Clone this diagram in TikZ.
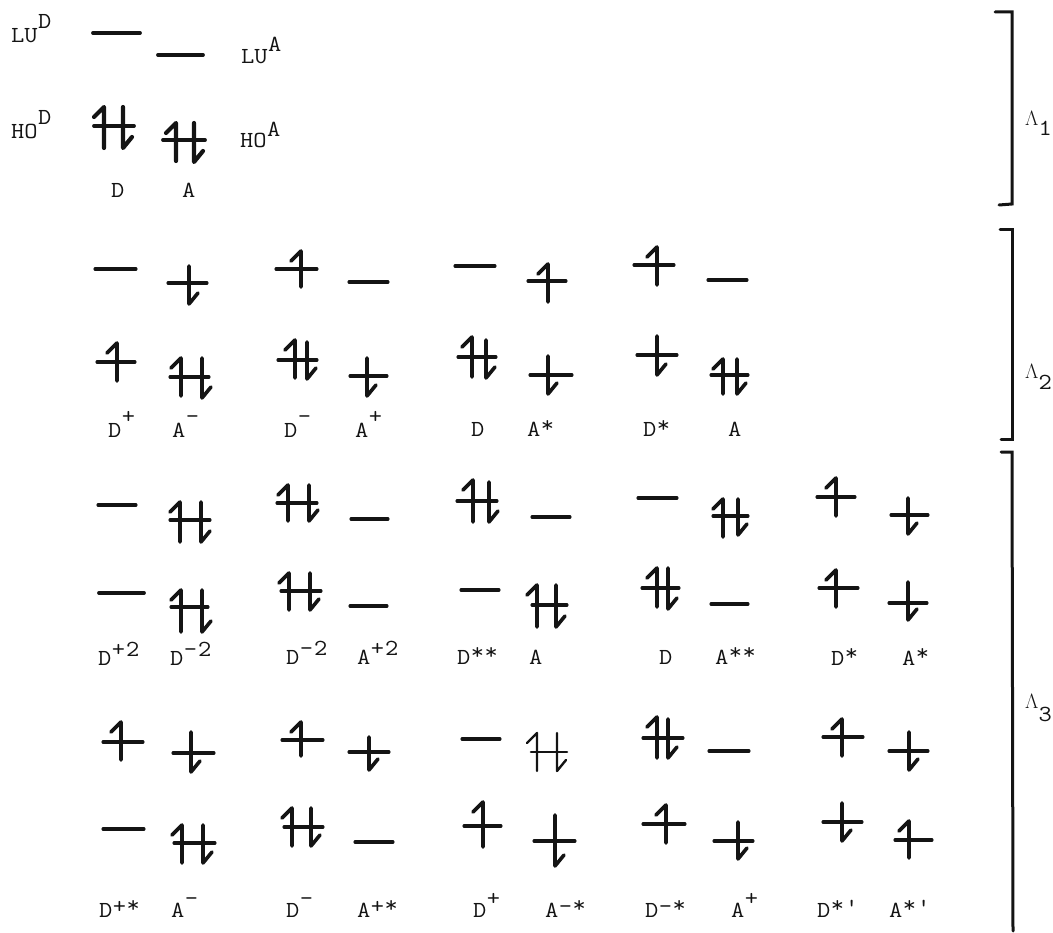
\documentclass[tikz,border=0pt]{standalone}
\usepackage{amsmath,amssymb}
\usepackage{fontspec}
\usetikzlibrary{arrows.meta,calc,positioning}
\definecolor{ink}{HTML}{141414}
\newfontfamily\labelfam[FakeStretch=1.12]{Latin Modern Mono}
\newcommand{\lblfont}{\fontsize{23}{23}\selectfont\labelfam}
\newcommand{\upby}[2]{\kern0.5pt\raisebox{#1pt}{#2}}
\newcommand{\starmark}{\kern0.5pt\raisebox{4.5pt}{\textbf{*}}}
\newcommand{\orb}[4][]{\draw[orbline,#1] (#2,#4) -- (#3,#4);}
\newcommand{\spinup}[4][]{\draw[spinline,#1] (#2-10,#3+10) -- (#2,#3) -- (#2,#4);}
\newcommand{\spindown}[4][]{\draw[spinline,#1] (#2,#3) -- (#2,#4) -- (#2+9,#4-11);}
\tikzset{
  orbline/.style={draw=ink,line width=3.1pt,line cap=round},
  spinline/.style={draw=ink,line width=3.6pt,line cap=round,line join=round},
  bracketline/.style={draw=ink,line width=3pt,line cap=round,line join=miter},
  statelabel/.style={anchor=base west,inner sep=0pt,font=\lblfont,text=ink},
  blocklabel/.style={anchor=base west,inner sep=0pt,font=\fontsize{21}{21}\selectfont,text=ink}
}
\begin{document}
\begin{tikzpicture}[x=1pt,y=-1pt]
  \useasboundingbox (0,0) rectangle (1053,933);

  \orb[line width=3.8pt]{93}{140}{33} \orb[line width=3.8pt]{158}{203}{55}
  \orb[line width=3.8pt]{94}{134}{126} \spinup[line width=4.2pt]{104}{107}{148} \spindown[line width=4.2pt]{123}{107}{148}
  \orb[line width=3.8pt]{163}{205}{140} \spinup[line width=4.2pt]{176}{123}{161} \spindown[line width=4.2pt]{194}{123}{162}
  \node[statelabel] (lud) at (11,43) {LU\upby{14}{D}};
  \node[statelabel] (lua) at (241,64) {LU\upby{12}{A}};
  \node[statelabel] (hod) at (11,139) {HO\upby{14}{D}};
  \node[statelabel] (hoa) at (240,148) {HO\upby{11}{A}};
  \node[statelabel] (d11) at (111,198) {D};
  \node[statelabel] (a11) at (182,198) {A};

  \orb{95}{136}{269} \orb{168}{207}{283} \spindown{189}{266}{304}
  \orb{97}{135}{362} \spinup{117}{343}{381} \orb{170}{209}{377} \spinup{181}{358}{396} \spindown{202}{358}{398}
  \orb{276}{317}{269} \spinup{301}{251}{287} \orb{349}{388}{282}
  \orb{278}{317}{360} \spinup{295}{340}{378} \spindown{307}{342}{379} \orb{350}{387}{376} \spindown{367}{358}{396}
  \orb{455}{495}{266} \orb{528}{566}{281} \spinup{548}{264}{302}
  \orb{458}{496}{357} \spinup{472}{337}{377} \spindown{486}{340}{378} \orb{530}{572}{375} \spindown{548}{356}{394}
  \orb{634}{674}{265} \spinup{657}{247}{285} \orb{708}{747}{280}
  \orb{637}{677}{355} \spindown{657}{336}{375} \orb{711}{748}{375} \spinup{723}{359}{394} \spindown{737}{359}{394}
  \node[statelabel] (d21) at (108,438) {D\upby{14}{\textbf{+}}};
  \node[statelabel] (a21) at (172,438) {A\upby{14}{\textbf{-}}};
  \node[statelabel] (d22) at (284,438) {D\upby{14}{\textbf{-}}};
  \node[statelabel] (a22) at (355,438) {A\upby{14}{\textbf{+}}};
  \node[statelabel] (d23) at (471,437) {D};
  \node[statelabel] (a23) at (527,437) {A\starmark};
  \node[statelabel] (d24) at (643,437) {D\starmark};
  \node[statelabel] (a24) at (728,437) {A};

  \orb{98}{136}{505} \orb{170}{210}{520} \spinup{180}{502}{542} \spindown{201}{502}{542}
  \orb[line width=3.8pt]{99}{144}{593} \orb{171}{208}{607} \spinup{181}{590}{632} \spindown{202}{590}{632}
  \orb{277}{317}{503} \spinup{288}{485}{521} \spindown{309}{485}{521} \orb{351}{388}{519}
  \orb{281}{321}{591} \spinup{289}{573}{610} \spindown{310}{573}{610} \orb{350}{387}{606}
  \orb{457}{497}{501} \spinup{473}{480}{522} \spindown{489}{482}{522} \orb{532}{570}{517}
  \orb{461}{499}{590} \orb{532}{567}{605} \spinup{537}{585}{627} \spindown{556}{585}{627}
  \orb{638}{677}{498} \orb{713}{748}{516} \spinup{723}{499}{537} \spindown{738}{499}{535}
  \orb{642}{679}{588} \spinup{657}{568}{607} \spindown{668}{568}{609} \orb{711}{748}{604}
  \orb{817}{855}{497} \spinup{836}{478}{516} \orb{891}{928}{515} \spindown{908}{498}{534}
  \orb{819}{858}{588} \spinup{836}{570}{607} \orb{889}{927}{603} \spindown{908}{582}{620}
  \node[statelabel] (d31) at (98,665) {D\upby{9}{\textbf{+}\kern1pt 2}};
  \node[statelabel] (a31) at (170,665) {D\upby{9}{\textbf{-}\kern1pt 2}};
  \node[statelabel] (d32) at (286,664) {D\upby{9}{\textbf{-}\kern1pt 2}};
  \node[statelabel] (a32) at (357,664) {A\upby{9}{\textbf{+}\kern1pt 2}};
  \node[statelabel] (d33) at (457,664) {D\starmark\starmark};
  \node[statelabel] (a33) at (529,664) {A};
  \node[statelabel] (d34) at (659,664) {D};
  \node[statelabel] (a34) at (715,664) {A\starmark\starmark};
  \node[statelabel] (d35) at (831,665) {D\starmark};
  \node[statelabel] (a35) at (902,665) {A\starmark};

  \orb{103}{143}{742} \spinup{121}{722}{760} \orb{173}{214}{753} \spindown{191}{732}{772}
  \orb{103}{144}{829} \orb{174}{215}{843} \spinup{182}{825}{863} \spindown{203}{825}{863}
  \orb{282}{323}{740} \spinup{301}{722}{756} \orb{349}{389}{752} \spindown{369}{737}{770}
  \orb{284}{323}{827} \spinup{292}{808}{846} \spindown{311}{808}{846} \orb{355}{393}{842}
  \orb{462}{500}{739} \orb[line width=2.6pt]{531}{567}{752} \spinup[line width=2.4pt]{537}{733}{771} \spindown[line width=2.4pt]{557}{733}{771}
  \orb{464}{501}{826} \spinup{483}{802}{847} \orb{534}{575}{841} \spindown{555}{815}{866}
  \orb{643}{683}{738} \spinup{657}{717}{758} \spindown{668}{719}{758} \orb{709}{749}{751}
  \orb{643}{685}{824} \spinup{666}{805}{843} \orb{714}{753}{841} \spindown{738}{822}{859}
  \orb{823}{863}{737} \spinup{842}{719}{756} \orb{889}{928}{751} \spindown{909}{732}{770}
  \orb{823}{862}{822} \spindown{842}{803}{841} \orb{895}{932}{840} \spinup{909}{821}{858}
  \node[statelabel] (d41) at (99,917) {D\upby{4}{\textbf{+}}\starmark};
  \node[statelabel] (a41) at (171,917) {A\upby{12}{\textbf{-}}};
  \node[statelabel] (d42) at (286,917) {D\upby{12}{\textbf{-}}};
  \node[statelabel] (a42) at (357,917) {A\upby{4}{\textbf{+}}\starmark};
  \node[statelabel] (d43) at (473,917) {D\upby{12}{\textbf{+}}};
  \node[statelabel] (a43) at (545,917) {A\upby{4}{\textbf{-}}\starmark};
  \node[statelabel] (d44) at (645,917) {D\upby{4}{\textbf{-}}\starmark};
  \node[statelabel] (a44) at (731,917) {A\upby{12}{\textbf{+}}};
  \node[statelabel] (d45) at (817,917) {D\starmark\kern1pt\raisebox{3pt}{\textbf{'}}};
  \node[statelabel] (a45) at (889,917) {A\starmark\kern1pt\raisebox{3pt}{\textbf{'}}};

  \draw[bracketline] (995,12) -- (1012,12) -- (1012,204) -- (999,205);
  \draw[bracketline] (1000,230) -- (1012,230) -- (1012,440) -- (1001,440);
  \draw[bracketline] (1001,452) -- (1012,452) -- (1013,931);
  \node[blocklabel] (lam1) at (1025,126) {$\Lambda$\raisebox{-10pt}{\lblfont 1}};
  \node[blocklabel] (lam2) at (1025,379) {$\Lambda$\raisebox{-11pt}{\lblfont 2}};
  \node[blocklabel] (lam3) at (1025,708) {$\Lambda$\raisebox{-13pt}{\lblfont 3}};
\end{tikzpicture}
\end{document}
